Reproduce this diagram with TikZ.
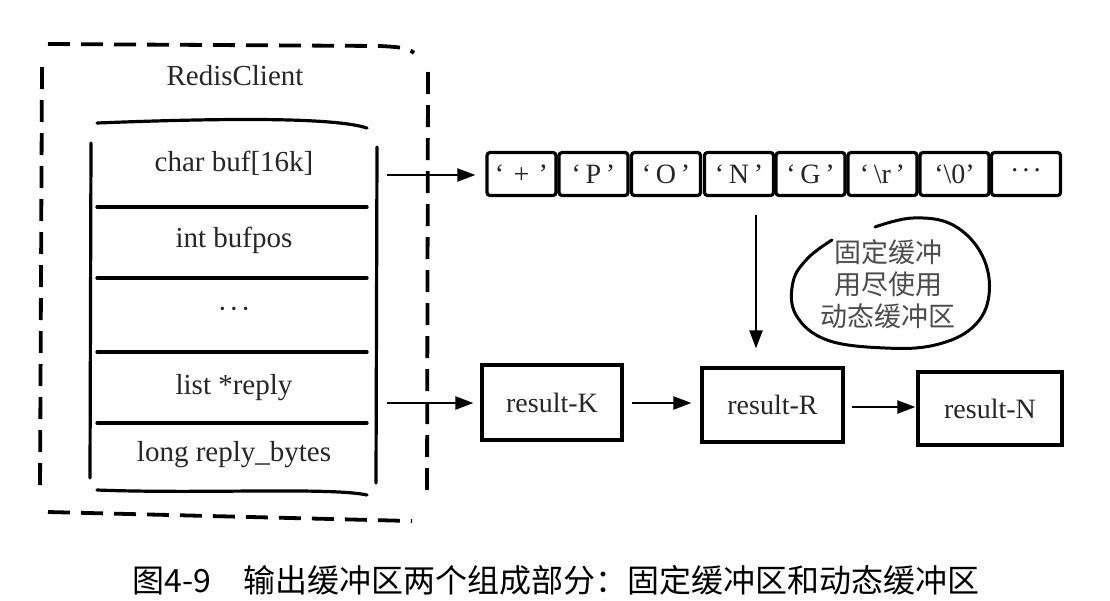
\documentclass[tikz,border=0pt]{standalone}
\usepackage{fontspec}
\setmainfont{Liberation Serif}
\newfontfamily\cjk{Noto Sans CJK SC}
\usetikzlibrary{arrows.meta}
\begin{document}
\begin{tikzpicture}[x=1pt,y=-1pt,
  sketch/.style={line width=3.2pt, line cap=round},
  dashline/.style={line width=3.8pt, dash pattern=on 22pt off 11pt},
  field/.style={font=\fontsize{29}{32}\selectfont, inner sep=0pt, text=black!85},
  cell/.style={draw, line width=3.2pt, rounded corners=3pt, minimum width=69pt, minimum height=43pt, inner sep=0pt, font=\fontsize{28}{30}\selectfont, text=black!85},
  res/.style={draw, line width=3.2pt, inner sep=0pt, font=\fontsize{28}{30}\selectfont, text=black!85},
  arr/.style={line width=2.2pt, -{Triangle[length=18pt,width=13pt]}},
]
\useasboundingbox (0,0) rectangle (1110,600);

% outer dashed frame
\draw[dashline] (48,44) -- (380,46) .. controls (400,47) and (408,48) .. (414,53);
\draw[dashline] (428,72) -- (427,500);
\draw[dashline] (48,512) -- (412,521);
\draw[dashline] (42,67) -- (40,493);
\node[field] (title) at (235,76) {RedisClient};

% inner struct
\draw[sketch] (97,123) .. controls (200,119) and (330,116) .. (367,128);
\draw[sketch] (91,143) -- (90,478);
\draw[sketch] (377,147) -- (376,483);
\draw[sketch] (97,207) -- (367,207);
\draw[sketch] (97,278) -- (367,278);
\draw[sketch] (97,352) -- (367,352);
\draw[sketch] (97,423) -- (367,423);
\draw[sketch] (97,490) .. controls (200,494) and (330,487) .. (367,495);

\node[field] (buf) at (234,163) {char buf[16k]};
\node[field] (bufpos) at (234,240) {int bufpos};
\node[field] (etc) at (234,313) {·\hspace{2pt}·\hspace{2pt}·};
\node[field] (reply) at (234,388) {list *reply};
\node[field] (bytes) at (234,455) {long reply\_bytes};

\coordinate (bufout) at (387,175);
\coordinate (replyout) at (387,403);

% fixed buffer cells
\node[cell] (c1) at (521.5,174) {‘\,\,+\,\,’};
\node[cell] (c2) at (593.5,174) {‘\,P\,’};
\node[cell] (c3) at (666,174) {‘\,O\,’};
\node[cell] (c4) at (739,174) {‘\,N\,’};
\node[cell] (c5) at (810.5,174) {‘\,G\,’};
\node[cell] (c6) at (882.5,174) {‘\,\textbackslash r\,’};
\node[cell] (c7) at (954.5,174) {‘\textbackslash 0’};
\node[cell] (c8) at (1026,174) {·\hspace{2pt}·\hspace{2pt}·};

\draw[arr, shorten >=10pt] (bufout) -- (bufout -| c1.west);

% reply list
\node[res, minimum width=140pt, minimum height=75pt] (rk) at (552,402.5) {result-K};
\node[res, minimum width=141pt, minimum height=74pt] (rr) at (772.5,405) {result-R};
\node[res, minimum width=144pt, minimum height=73pt] (rn) at (990,408.5) {result-N};

\draw[arr, shorten >=7pt] (replyout) -- (replyout -| rk.west);
\draw[arr, shorten <=8pt, shorten >=9pt] (rk.east |- 0,403) -- (rr.west |- 0,403);
\draw[arr, shorten <=7pt, shorten >=1pt] (rr.east |- 0,407) -- (rn.west |- 0,407);

\coordinate (down) at (756,215);
\draw[arr, shorten >=18pt] (down) -- (down |- rr.north);

% note blob
\draw[line width=3pt, line cap=round] plot[smooth, tension=0.65] coordinates {
  (875,227) (913,218) (953,225) (982,255) (989,295) (973,327) (935,345) (885,348) (827,340) (796,315) (793,282) (808,258) (832,240)};
\node[font=\cjk\fontsize{27}{32}\selectfont, align=center, text=black!70, inner sep=0pt] (note) at (888,284) {固定缓冲\\用尽使用\\动态缓冲区};

% caption
\node[font=\cjk\fontsize{32}{34}\selectfont, inner sep=0pt] (caption) at (556,580) {图4-9\hspace{1em}输出缓冲区两个组成部分：固定缓冲区和动态缓冲区};
\end{tikzpicture}
\end{document}
